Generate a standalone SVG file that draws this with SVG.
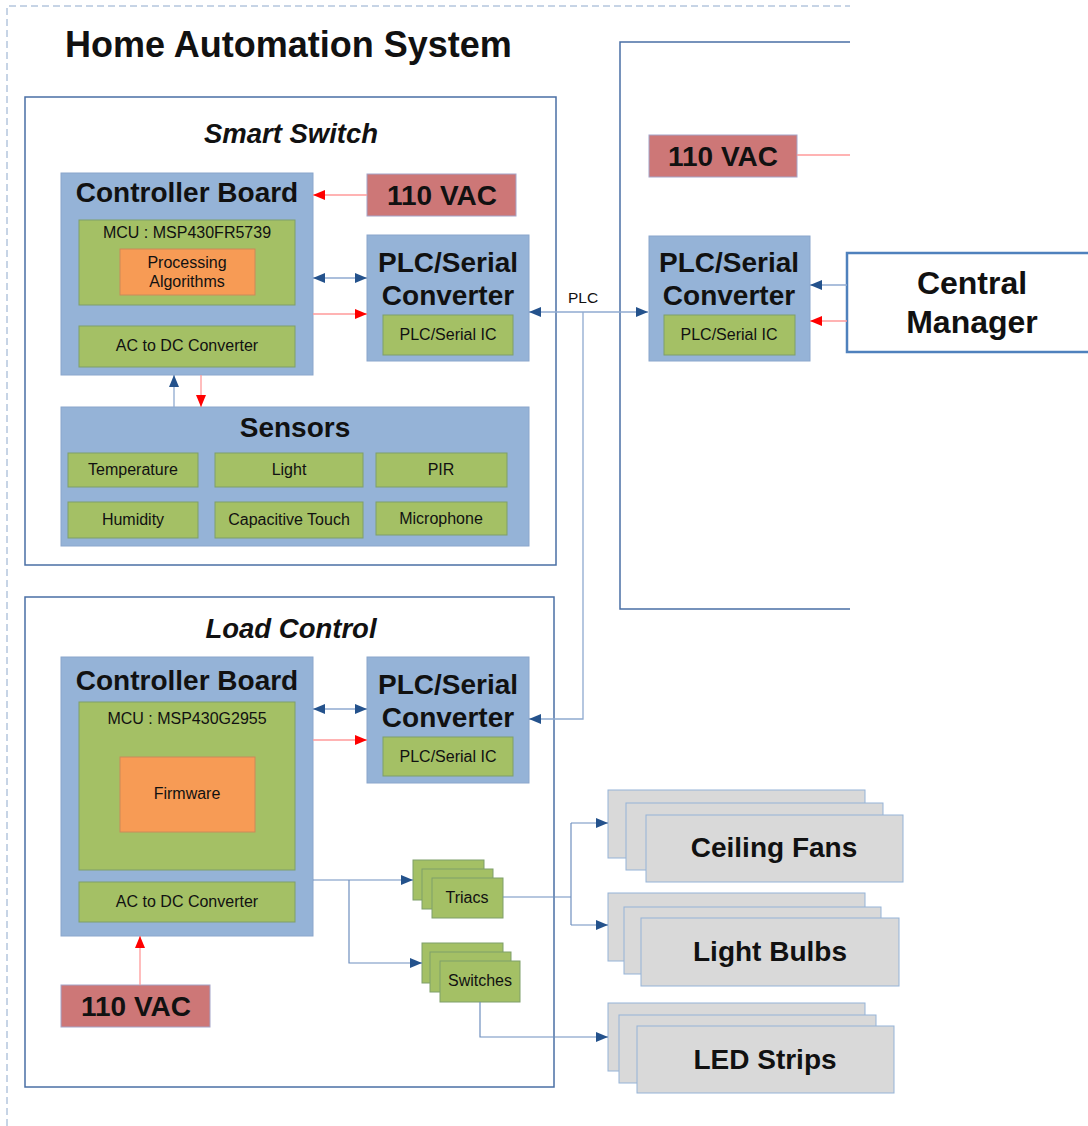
<svg xmlns="http://www.w3.org/2000/svg" width="1088" height="1126" viewBox="0 0 1088 1126">
  <style>
    text { font-family: "Liberation Sans", Arial, sans-serif; fill: #111; }
    .bold { font-weight: bold; }
    .title { font-size: 36px; font-weight: bold; }
    .section { font-size: 27.5px; font-weight: bold; font-style: italic; }
    .head { font-size: 28px; font-weight: bold; }
    .small { font-size: 16px; }
    .frame { fill: none; stroke: #4a6fa5; stroke-width: 1.5; }
    .board { fill: #95b3d7; stroke: #8aa6cc; stroke-width: 1; }
    .green { fill: #a4c065; stroke: #7f9f6a; stroke-width: 1; }
    .orange { fill: #f79b55; stroke: #c98a5a; stroke-width: 1; }
    .power { fill: #cd7777; stroke: #a4a4c8; stroke-width: 1; }
    .grey { fill: #d9d9d9; stroke: #95b3d7; stroke-width: 1; }
    .blue { fill: none; stroke: #8faad0; stroke-width: 1.3; }
    .blueDark { fill: none; stroke: #6f8fbf; stroke-width: 1.2; }
    .red { fill: none; stroke: #ff9a9a; stroke-width: 1.3; }
  </style>
  <defs>
    <marker id="arrowBlue" viewBox="0 0 12 10" refX="12" refY="5" markerWidth="12" markerHeight="10" markerUnits="userSpaceOnUse" orient="auto-start-reverse">
      <path d="M0,0 L12,5 L0,10 z" fill="#24528c"/>
    </marker>
    <marker id="arrowRed" viewBox="0 0 12 10" refX="12" refY="5" markerWidth="12" markerHeight="10" markerUnits="userSpaceOnUse" orient="auto-start-reverse">
      <path d="M0,0 L12,5 L0,10 z" fill="#ff0000"/>
    </marker>
  </defs>

  <rect width="1088" height="1126" fill="#ffffff"/>

  <!-- dashed page border -->
  <path d="M7,1126 V6 H850" fill="none" stroke="#8ea9cc" stroke-width="1" stroke-dasharray="7,4"/>

  <text class="title" x="65" y="57">Home Automation System</text>

  <!-- Smart Switch frame -->
  <g id="smart-switch">
    <rect class="frame" x="25" y="97" width="531" height="468"/>
    <text class="section" x="291" y="143" text-anchor="middle">Smart Switch</text>
  </g>

  <g id="ss-controller">
    <rect class="board" x="61" y="173" width="252" height="202"/>
    <text class="head" x="187" y="202" text-anchor="middle">Controller Board</text>
    <rect class="green" x="79" y="220" width="216" height="85"/>
    <text class="small" x="187" y="238" text-anchor="middle">MCU : MSP430FR5739</text>
    <rect class="orange" x="120" y="249" width="135" height="46"/>
    <text class="small" x="187" y="268" text-anchor="middle">Processing</text>
    <text class="small" x="187" y="287" text-anchor="middle">Algorithms</text>
    <rect class="green" x="79" y="326" width="216" height="41"/>
    <text class="small" x="187" y="351" text-anchor="middle">AC to DC Converter</text>
  </g>

  <g id="ss-power">
    <rect class="power" x="367" y="174" width="149" height="42"/>
    <text class="head" x="442" y="205" text-anchor="middle">110 VAC</text>
  </g>

  <g id="ss-plc">
    <rect class="board" x="367" y="235" width="162" height="126"/>
    <text class="head" x="448" y="272" text-anchor="middle">PLC/Serial</text>
    <text class="head" x="448" y="305" text-anchor="middle">Converter</text>
    <rect class="green" x="383" y="315" width="130" height="40"/>
    <text class="small" x="448" y="340" text-anchor="middle">PLC/Serial IC</text>
  </g>

  <g id="ss-sensors">
    <rect class="board" x="61" y="407" width="468" height="139"/>
    <text class="head" x="295" y="437" text-anchor="middle">Sensors</text>
    <rect class="green" x="68" y="453" width="130" height="34"/>
    <text class="small" x="133" y="475" text-anchor="middle">Temperature</text>
    <rect class="green" x="215" y="453" width="148" height="34"/>
    <text class="small" x="289" y="475" text-anchor="middle">Light</text>
    <rect class="green" x="376" y="453" width="131" height="34"/>
    <text class="small" x="441" y="475" text-anchor="middle">PIR</text>
    <rect class="green" x="68" y="502" width="130" height="36"/>
    <text class="small" x="133" y="525" text-anchor="middle">Humidity</text>
    <rect class="green" x="215" y="502" width="148" height="36"/>
    <text class="small" x="289" y="525" text-anchor="middle">Capacitive Touch</text>
    <rect class="green" x="376" y="502" width="131" height="33"/>
    <text class="small" x="441" y="524" text-anchor="middle">Microphone</text>
  </g>

  <!-- Central side frame (open on the right) -->
  <g id="central-frame">
    <path class="frame" d="M850,42 H620 V609 H850"/>
  </g>

  <g id="cm-power">
    <rect class="power" x="649" y="135" width="148" height="42"/>
    <text class="head" x="723" y="166" text-anchor="middle">110 VAC</text>
  </g>

  <g id="cm-plc">
    <rect class="board" x="649" y="236" width="161" height="125"/>
    <text class="head" x="729" y="272" text-anchor="middle">PLC/Serial</text>
    <text class="head" x="729" y="305" text-anchor="middle">Converter</text>
    <rect class="green" x="664" y="315" width="131" height="40"/>
    <text class="small" x="729" y="340" text-anchor="middle">PLC/Serial IC</text>
  </g>

  <g id="central-manager">
    <rect x="847" y="253" width="250" height="99" fill="#ffffff" stroke="#4f81bd" stroke-width="2.5"/>
    <text class="bold" x="972" y="294" text-anchor="middle" font-size="32">Central</text>
    <text class="bold" x="972" y="333" text-anchor="middle" font-size="32">Manager</text>
  </g>

  <!-- Load Control frame -->
  <g id="load-control">
    <rect class="frame" x="25" y="597" width="529" height="490"/>
    <text class="section" x="291" y="638" text-anchor="middle">Load Control</text>
  </g>

  <g id="lc-controller">
    <rect class="board" x="61" y="657" width="252" height="279"/>
    <text class="head" x="187" y="690" text-anchor="middle">Controller Board</text>
    <rect class="green" x="79" y="702" width="216" height="168"/>
    <text class="small" x="187" y="724" text-anchor="middle">MCU : MSP430G2955</text>
    <rect class="orange" x="120" y="757" width="135" height="75"/>
    <text class="small" x="187" y="799" text-anchor="middle">Firmware</text>
    <rect class="green" x="79" y="882" width="216" height="40"/>
    <text class="small" x="187" y="907" text-anchor="middle">AC to DC Converter</text>
  </g>

  <g id="lc-plc">
    <rect class="board" x="367" y="657" width="162" height="126"/>
    <text class="head" x="448" y="694" text-anchor="middle">PLC/Serial</text>
    <text class="head" x="448" y="727" text-anchor="middle">Converter</text>
    <rect class="green" x="383" y="737" width="130" height="39"/>
    <text class="small" x="448" y="762" text-anchor="middle">PLC/Serial IC</text>
  </g>

  <g id="lc-power">
    <rect class="power" x="61" y="985" width="149" height="42"/>
    <text class="head" x="136" y="1016" text-anchor="middle">110 VAC</text>
  </g>

  <g id="triacs">
    <rect class="green" x="413" y="860" width="71" height="40"/>
    <rect class="green" x="422" y="869" width="71" height="40"/>
    <rect class="green" x="432" y="878" width="71" height="40"/>
    <text class="small" x="467" y="903" text-anchor="middle">Triacs</text>
  </g>

  <g id="switches">
    <rect class="green" x="422" y="943" width="81" height="40"/>
    <rect class="green" x="430" y="952" width="81" height="40"/>
    <rect class="green" x="440" y="961" width="80" height="41"/>
    <text class="small" x="480" y="986" text-anchor="middle">Switches</text>
  </g>

  <g id="ceiling-fans">
    <rect class="grey" x="608" y="790" width="257" height="68"/>
    <rect class="grey" x="626" y="803" width="257" height="67"/>
    <rect class="grey" x="646" y="815" width="257" height="67"/>
    <text class="head" x="774" y="857" text-anchor="middle">Ceiling Fans</text>
  </g>

  <g id="light-bulbs">
    <rect class="grey" x="608" y="893" width="257" height="68"/>
    <rect class="grey" x="624" y="907" width="257" height="67"/>
    <rect class="grey" x="641" y="918" width="258" height="68"/>
    <text class="head" x="770" y="961" text-anchor="middle">Light Bulbs</text>
  </g>

  <g id="led-strips">
    <rect class="grey" x="608" y="1003" width="257" height="68"/>
    <rect class="grey" x="619" y="1015" width="257" height="68"/>
    <rect class="grey" x="637" y="1026" width="257" height="67"/>
    <text class="head" x="765" y="1069" text-anchor="middle">LED Strips</text>
  </g>

  <!-- connectors -->
  <g id="connectors">
    <!-- Smart Switch -->
    <line class="red" x1="367" y1="195" x2="313" y2="195" marker-end="url(#arrowRed)"/>
    <line class="blue" x1="313" y1="278" x2="367" y2="278" marker-start="url(#arrowBlue)" marker-end="url(#arrowBlue)"/>
    <line class="red" x1="313" y1="314" x2="367" y2="314" marker-end="url(#arrowRed)"/>
    <line class="blue" x1="174" y1="407" x2="174" y2="375" marker-end="url(#arrowBlue)"/>
    <line class="red" x1="201" y1="375" x2="201" y2="407" marker-end="url(#arrowRed)"/>

    <!-- PLC bus -->
    <line class="blue" x1="529" y1="312" x2="648" y2="312" marker-start="url(#arrowBlue)" marker-end="url(#arrowBlue)"/>
    <polyline class="blue" points="583,312 583,719 529,719" marker-end="url(#arrowBlue)"/>
    <text x="583" y="303" text-anchor="middle" font-size="15.5">PLC</text>

    <!-- Central side -->
    <line class="red" x1="797" y1="155" x2="850" y2="155"/>
    <line class="blue" x1="847" y1="285" x2="810" y2="285" marker-end="url(#arrowBlue)"/>
    <line class="red" x1="847" y1="321" x2="810" y2="321" marker-end="url(#arrowRed)"/>

    <!-- Load Control -->
    <line class="blue" x1="313" y1="709" x2="367" y2="709" marker-start="url(#arrowBlue)" marker-end="url(#arrowBlue)"/>
    <line class="red" x1="313" y1="740" x2="367" y2="740" marker-end="url(#arrowRed)"/>
    <line class="red" x1="140" y1="985" x2="140" y2="936" marker-end="url(#arrowRed)"/>
    <line class="blueDark" x1="313" y1="880" x2="413" y2="880" marker-end="url(#arrowBlue)"/>
    <polyline class="blueDark" points="349,880 349,963 422,963" marker-end="url(#arrowBlue)"/>

    <!-- loads -->
    <line class="blueDark" x1="503" y1="897" x2="571" y2="897"/>
    <polyline class="blueDark" points="571,823 571,925"/>
    <line class="blueDark" x1="571" y1="823" x2="608" y2="823" marker-end="url(#arrowBlue)"/>
    <line class="blueDark" x1="571" y1="925" x2="608" y2="925" marker-end="url(#arrowBlue)"/>
    <polyline class="blueDark" points="480,1002 480,1037 608,1037" marker-end="url(#arrowBlue)"/>
  </g>
</svg>
